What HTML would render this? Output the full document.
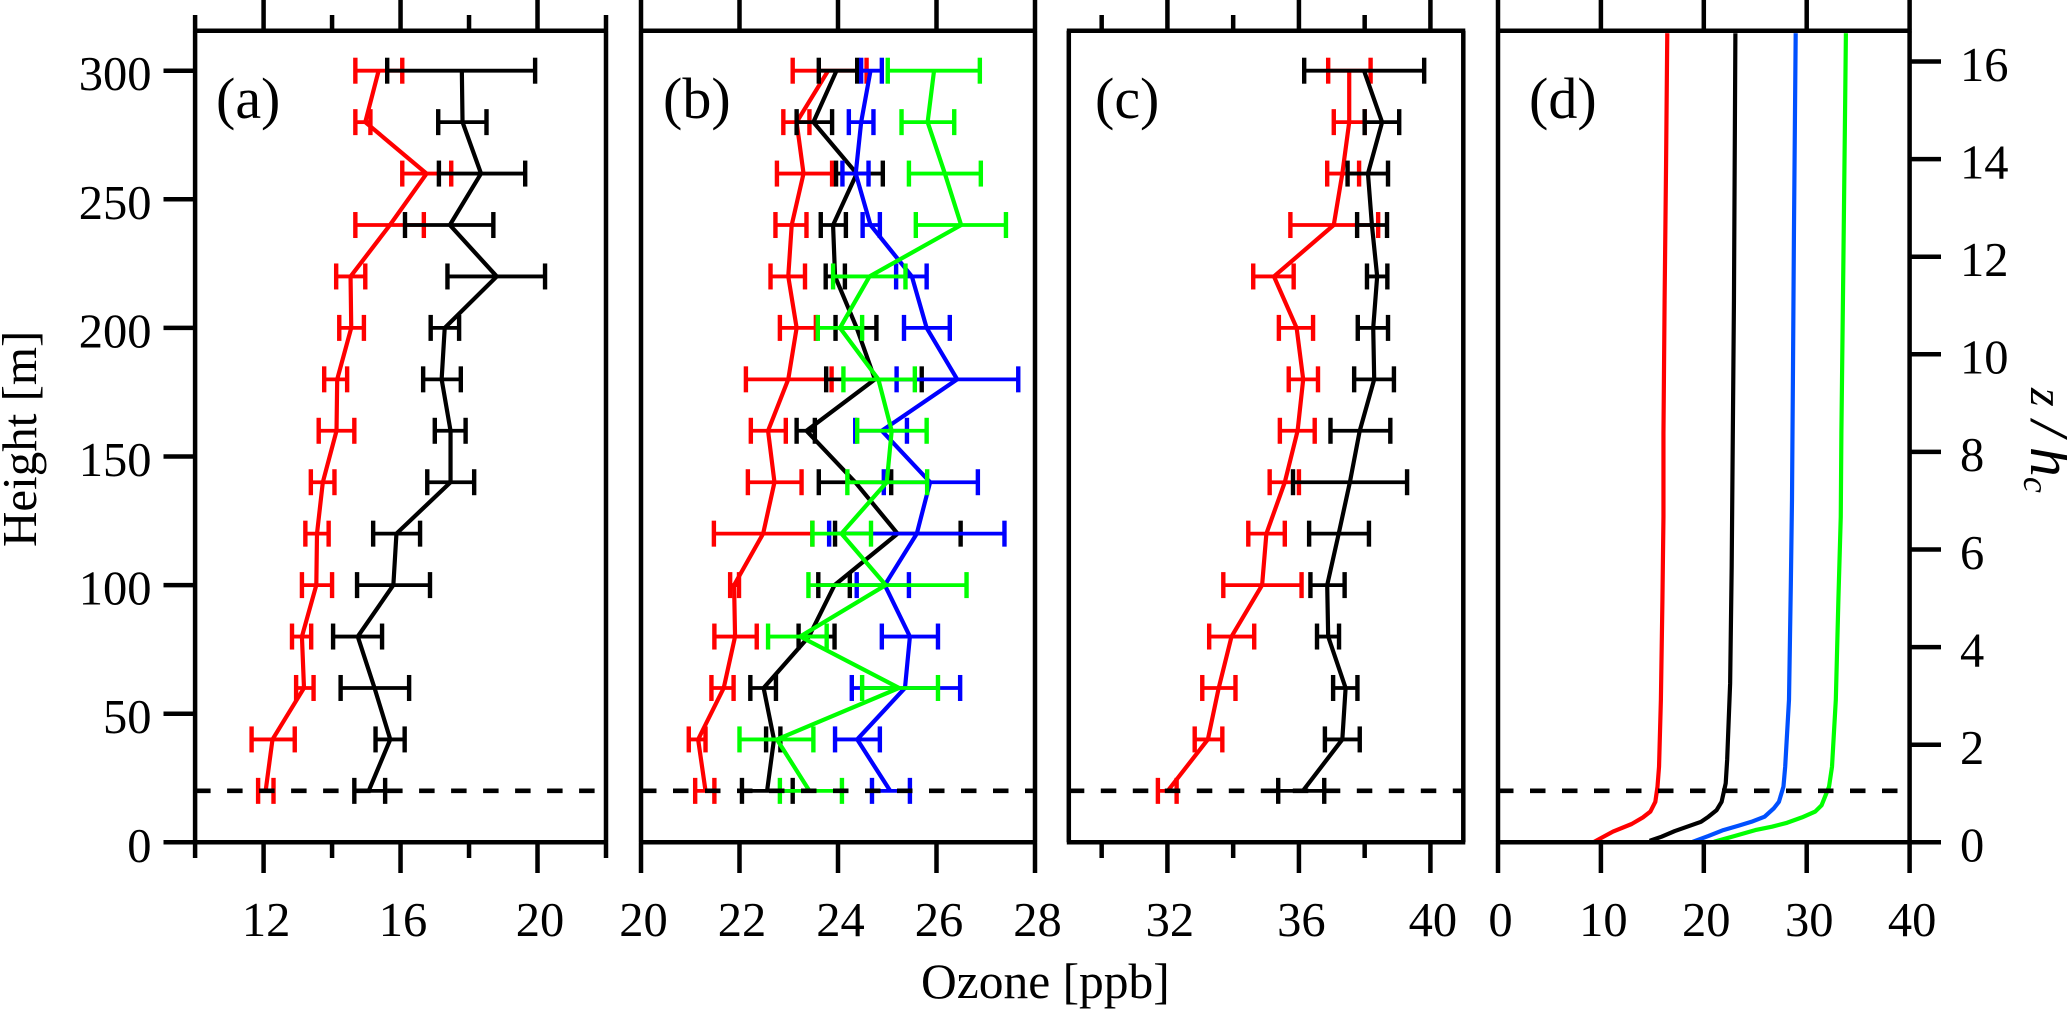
<!DOCTYPE html>
<html lang="en">
<head>
<meta charset="utf-8">
<title>Ozone profiles</title>
<style>
  html, body { margin: 0; padding: 0; background: #ffffff; }
  svg { display: block; }
  text { font-family: "Liberation Serif", "Times New Roman", serif; fill: #000; }
</style>
</head>
<body>
<svg id="chart" xmlns="http://www.w3.org/2000/svg" width="2067" height="1010" viewBox="0 0 2067 1010">
  <rect x="0" y="0" width="2067" height="1010" fill="#ffffff"/>
  <text transform="translate(36 547) rotate(-90)" font-size="49">Height [m]</text>
  <text x="921" y="998" font-size="49.5">Ozone [ppb]</text>
  <text transform="translate(2031 388) rotate(90)" font-size="48" font-style="italic">z<tspan dx="14" font-size="62">/</tspan><tspan dx="9" font-size="60">h</tspan><tspan font-size="36" dy="7">c</tspan></text>
  <text x="216" y="118" font-size="58">(a)</text>
  <text x="663" y="118" font-size="58">(b)</text>
  <text x="1095" y="118" font-size="58">(c)</text>
  <text x="1529" y="118" font-size="58">(d)</text>
</svg>
<script>
// ---------- shared heights (m) ----------
const heights = [300,280,260,240,220,200,180,160,140,120,100,80,60,40,20];
const boundaryHeight = [20];

// ---------- tick labels ----------
const heightTicks = [0,50,100,150,200,250,300];
const zTicks = [0,2,4,6,8,10,12,14,16];
const aMajorTicks = [12,16,20];
const aMinorTicks = [10,14,18,22];
const bMajorTicks = [20,22,24,26,28];
const bMinorTicks = [];
const cMajorTicks = [32,36,40];
const cMinorTicks = [30,34,38];
const dMajorTicks = [0,10,20,30,40];
const dMinorTicks = [];

// ---------- panel (a) ----------
const aRedMean = [15.36,14.97,16.76,15.69,14.54,14.56,14.15,14.13,13.73,13.56,13.54,13.12,13.18,12.26,12.06];
const aRedLo   = [14.68,14.68,16.05,14.68,14.12,14.21,13.77,13.61,13.38,13.22,13.12,12.83,12.95,11.65,11.84];
const aRedHi   = [16.05,15.12,17.48,16.68,14.97,14.93,14.44,14.65,14.07,13.90,14.00,13.39,13.46,12.91,12.29];
const aBlackMean = [17.79,17.81,18.35,17.44,18.81,17.29,17.20,17.46,17.46,15.88,15.79,14.75,15.24,15.70,15.07];
const aBlackLo   = [15.61,17.10,17.12,16.13,17.37,16.88,16.66,17.00,16.78,15.20,14.73,14.03,14.25,15.27,14.65];
const aBlackHi   = [19.93,18.51,19.64,18.71,20.22,17.71,17.76,17.90,18.15,16.57,16.86,15.46,16.25,16.12,15.55];

// ---------- panel (b) ----------
const bRedMean = [23.80,23.16,23.30,23.06,22.99,23.16,22.99,22.58,22.71,22.48,21.89,21.91,21.68,21.16,21.31];
const bRedLo   = [23.08,22.89,22.76,22.73,22.63,22.82,22.13,22.23,22.17,21.48,21.81,21.49,21.43,20.97,21.10];
const bRedHi   = [24.58,23.42,23.88,23.36,23.33,23.55,23.87,22.94,23.26,23.48,21.99,22.35,21.88,21.31,21.49];
const bBlackMean = [23.97,23.50,24.38,23.90,23.94,24.38,24.75,23.36,24.35,25.21,23.93,23.41,22.49,22.70,22.56];
const bBlackLo   = [23.61,23.16,23.96,23.65,23.75,23.95,23.76,23.16,23.61,23.94,23.60,23.20,22.22,22.54,22.05];
const bBlackHi   = [24.39,23.88,24.91,24.16,24.14,24.78,25.70,23.53,25.08,26.49,24.24,23.93,22.74,22.83,23.08];
const bBlueMean = [24.66,24.47,24.36,24.66,25.50,25.80,26.42,24.89,25.87,25.60,24.95,25.46,25.36,24.39,25.06];
const bBlueLo   = [24.47,24.22,24.09,24.50,25.18,25.34,25.19,24.35,24.93,23.82,24.38,24.89,24.28,23.94,24.69];
const bBlueHi   = [24.89,24.72,24.62,24.85,25.80,26.27,27.66,25.40,26.84,27.38,25.44,26.03,26.48,24.85,25.46];
const bGreenMean = [25.95,25.82,26.17,26.50,24.64,24.04,24.82,25.09,24.99,24.07,24.97,23.23,25.24,22.76,23.42];
const bGreenLo   = [25.01,25.29,25.44,25.58,23.90,23.59,24.11,24.39,24.19,23.48,23.40,22.58,24.49,22.00,22.82];
const bGreenHi   = [26.88,26.36,26.90,27.41,25.37,24.49,25.56,25.80,25.81,24.67,26.61,23.77,26.03,23.50,24.08];

// ---------- panel (c) ----------
const cRedMean = [37.53,37.53,37.32,37.06,35.24,35.93,36.13,35.96,35.57,35.01,34.88,33.95,33.56,33.23,32.01];
const cRedLo   = [36.89,37.06,36.86,35.74,34.61,35.39,35.69,35.42,35.11,34.46,33.70,33.27,33.06,32.83,31.71];
const cRedHi   = [38.18,38.00,37.83,38.41,35.84,36.43,36.58,36.48,36.00,35.57,36.08,34.64,34.07,33.67,32.28];
const cBlackMean = [37.98,38.53,38.10,38.22,38.38,38.26,38.29,37.85,37.55,37.21,36.86,36.89,37.42,37.32,36.12];
const cBlackLo   = [36.16,38.00,37.48,37.77,38.07,37.79,37.68,36.96,35.82,36.31,36.35,36.55,37.04,36.79,35.37];
const cBlackHi   = [39.81,39.05,38.71,38.68,38.69,38.71,38.89,38.78,39.29,38.13,37.39,37.22,37.78,37.85,36.77];

// ---------- panel (d) ----------
const dRedZ = [0.01,0.115,0.22,0.375,0.51,0.63,0.83,1.14,1.55,2.92,4.97,6.67,8.38,11.1,13.84,16.58];
const dRedO = [9.35,10.26,11.18,12.99,14.08,14.81,15.29,15.5,15.65,15.83,15.98,16.08,16.08,16.19,16.33,16.45];
const dBlackZ = [0.03,0.115,0.23,0.42,0.525,0.66,0.83,1.21,1.69,3.26,5.65,8.38,11.1,13.84,16.58];
const dBlackO = [14.74,15.9,17.18,19.73,20.46,21.25,21.73,22.13,22.27,22.56,22.71,22.82,22.93,23.0,23.07];
const dBlueZ = [0.01,0.13,0.25,0.34,0.42,0.525,0.7,0.83,1.14,1.55,2.92,5.31,7.01,9.75,12.48,16.58];
const dBlueO = [18.92,20.46,21.9,23.36,24.63,25.91,26.82,27.3,27.74,27.91,28.28,28.46,28.57,28.67,28.76,28.93];
const dGreenZ = [0.01,0.13,0.25,0.32,0.4,0.51,0.63,0.76,1.14,1.55,2.92,4.97,6.67,8.38,11.8,15.2,16.58];
const dGreenO = [20.99,23.0,25.0,26.63,28.09,29.54,30.83,31.45,32.17,32.46,32.83,33.08,33.31,33.37,33.56,33.74,33.81];

// ---------- layout and axis functions ----------
const NS = 'http://www.w3.org/2000/svg';
const svg = document.getElementById('chart');
const TOP = 30.7, BOTTOM = 842.3;
const yH = h => BOTTOM - h * 2.572;
const yZ = z => BOTTOM - z * 48.8;
const linScale = (d0, d1, r0, r1) => v => r0 + (v - d0) * (r1 - r0) / (d1 - d0);

const RED = '#ff0000', BLACK = '#000000', BLUE = '#0000ff', GREEN = '#00ff00', DBLUE = '#0050ff';

const panels = [
  { id:'a', x0:195.1, x1:606, d0:10, d1:22, major:aMajorTicks, minor:aMinorTicks, dashEnd:595,
    series:[{n:'red',c:RED,m:aRedMean,l:aRedLo,h:aRedHi},{n:'black',c:BLACK,m:aBlackMean,l:aBlackLo,h:aBlackHi}] },
  { id:'b', x0:641, x1:1035, d0:20, d1:28, major:bMajorTicks, minor:bMinorTicks, dashEnd:1035,
    series:[{n:'red',c:RED,m:bRedMean,l:bRedLo,h:bRedHi},{n:'black',c:BLACK,m:bBlackMean,l:bBlackLo,h:bBlackHi},
            {n:'blue',c:BLUE,m:bBlueMean,l:bBlueLo,h:bBlueHi},{n:'green',c:GREEN,m:bGreenMean,l:bGreenLo,h:bGreenHi}] },
  { id:'c', x0:1068.8, x1:1463.3, d0:29, d1:41, major:cMajorTicks, minor:cMinorTicks, dashEnd:1463,
    series:[{n:'red',c:RED,m:cRedMean,l:cRedLo,h:cRedHi},{n:'black',c:BLACK,m:cBlackMean,l:cBlackLo,h:cBlackHi}] },
  { id:'d', x0:1498, x1:1909.6, d0:0, d1:40, major:dMajorTicks, minor:dMinorTicks, dashEnd:1898,
    curves:[{n:'red',c:RED,z:dRedZ,o:dRedO},{n:'black',c:BLACK,z:dBlackZ,o:dBlackO},
            {n:'blue',c:DBLUE,z:dBlueZ,o:dBlueO},{n:'green',c:GREEN,z:dGreenZ,o:dGreenO}] }
];

function mk(tag, attrs, parent) {
  const el = document.createElementNS(NS, tag);
  for (const k in attrs) el.setAttribute(k, attrs[k]);
  (parent || svg).appendChild(el);
  return el;
}
function axisLine(x1, y1, x2, y2, name, parent) {
  const el = mk('line', {x1, y1, x2, y2, stroke:'#000', 'stroke-width':4.5, 'stroke-linecap':'butt'}, parent);
  
  
  return el;
}
function label(x, y, txt, anchor, name, parent) {
  const el = mk('text', {x, y, 'font-size':48.5, 'text-anchor':anchor}, parent);
  el.textContent = txt;
  
  
  return el;
}

panels.forEach(p => {
  const x = linScale(p.d0, p.d1, p.x0, p.x1);
  const g = mk('g', {});
  
  

  // marks
  (p.series || []).forEach(s => {
    const sg = mk('g', {}, g);
    
    
    const line = mk('polyline', {
      points: heights.map((h, i) => x(s.m[i]).toFixed(2) + ',' + yH(h).toFixed(2)).join(' '),
      fill:'none', stroke:s.c, 'stroke-width':4.2, 'stroke-linejoin':'miter'
    }, sg);
    
    
    heights.forEach((h, i) => {
      const y = yH(h), xl = x(s.l[i]), xh = x(s.h[i]);
      const bar = mk('line', {x1:xl, y1:y, x2:xh, y2:y, stroke:s.c, 'stroke-width':3.8}, sg);
      
      
      const capL = mk('line', {x1:xl, y1:y - 13, x2:xl, y2:y + 13, stroke:s.c, 'stroke-width':4.4}, sg);
      
      
      const capH = mk('line', {x1:xh, y1:y - 13, x2:xh, y2:y + 13, stroke:s.c, 'stroke-width':4.4}, sg);
      
      
    });
  });
  (p.curves || []).forEach(s => {
    const line = mk('polyline', {
      points: s.z.map((z, i) => x(s.o[i]).toFixed(2) + ',' + yZ(z).toFixed(2)).join(' '),
      fill:'none', stroke:s.c, 'stroke-width':4.2, 'stroke-linejoin':'round'
    }, g);
    
    
  });

  // dashed reference line
  boundaryHeight.forEach(h => {
    const dash = mk('line', {x1:p.x0, y1:yH(h), x2:p.dashEnd, y2:yH(h), stroke:'#000', 'stroke-width':4.6, 'stroke-dasharray':'15.5 16.5'}, g);
    
    
  });

  // frame
  axisLine(p.x0 - 2, TOP, p.x1 + 2, TOP, 'top-axis-' + p.id, g);
  axisLine(p.x0 - 2, BOTTOM, p.x1 + 2, BOTTOM, 'bottom-axis-' + p.id, g);
  axisLine(p.x0, TOP, p.x0, BOTTOM, 'left-axis-' + p.id, g);
  axisLine(p.x1, TOP, p.x1, BOTTOM, 'right-axis-' + p.id, g);

  // x ticks
  p.major.forEach(v => {
    axisLine(x(v), 0, x(v), TOP, 'top-major-tick-' + p.id + '-' + v, g);
    axisLine(x(v), BOTTOM, x(v), 873, 'bottom-major-tick-' + p.id + '-' + v, g);
    label(x(v) + 2.5, 936, String(v), 'middle', 'x-tick-label-' + p.id + '-' + v, g);
  });
  p.minor.forEach(v => {
    axisLine(x(v), 15, x(v), TOP, 'top-minor-tick-' + p.id + '-' + v, g);
    axisLine(x(v), BOTTOM, x(v), 858, 'bottom-minor-tick-' + p.id + '-' + v, g);
  });
});

// height axis (left of panel a)
heightTicks.forEach(h => {
  axisLine(163.5, yH(h), 195.1, yH(h), 'height-tick-' + h);
  label(151.5, yH(h) + 19.5, String(h), 'end', 'height-tick-label-' + h);
});
// z / hc axis (right of panel d)
zTicks.forEach(z => {
  axisLine(1909.6, yZ(z), 1941, yZ(z), 'z-tick-' + z);
  label(1960, yZ(z) + 19.3, String(z), 'start', 'z-tick-label-' + z);
});
</script>
</body>
</html>
